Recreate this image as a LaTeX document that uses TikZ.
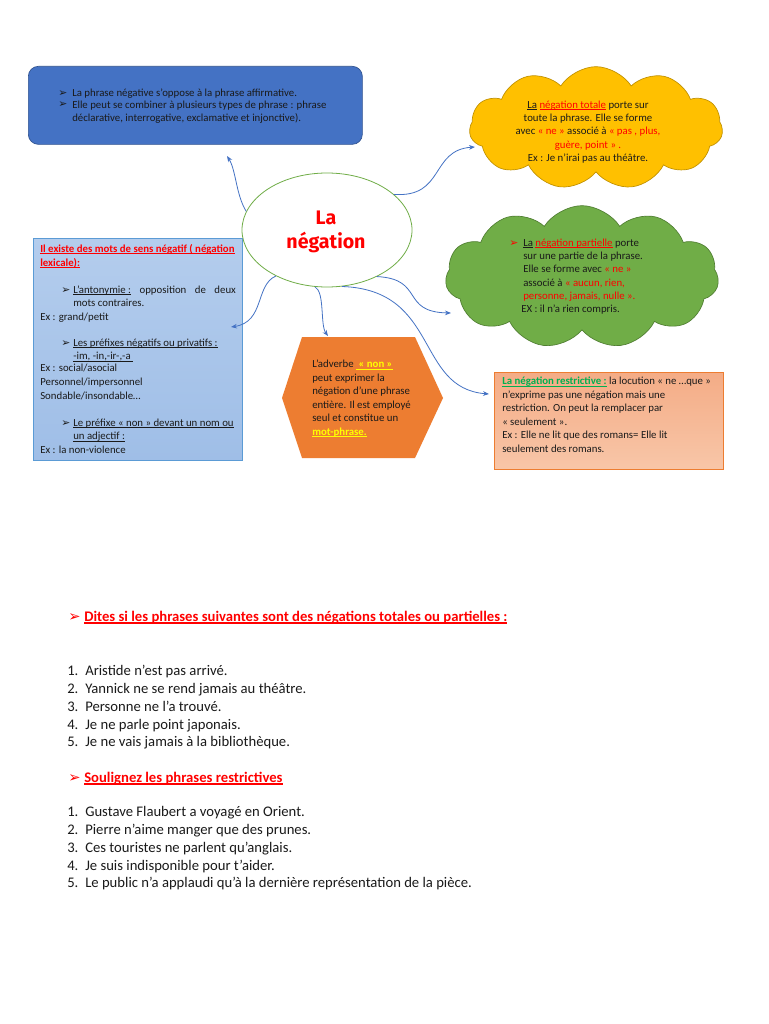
\documentclass[tikz,border=0pt]{standalone}
\usepackage{fontspec}
\setmainfont{Carlito}
\newfontfamily\symf{DejaVu Sans}
\newfontfamily\titlef{Fira Sans}
\usetikzlibrary{shapes.geometric,shapes.symbols,arrows.meta}
\definecolor{boxblue}{HTML}{4472C4}
\definecolor{boxblueb}{HTML}{2F528F}
\definecolor{ycloud}{HTML}{FFC000}
\definecolor{ycloudb}{HTML}{C09000}
\definecolor{gcloud}{HTML}{70AD47}
\definecolor{gcloudb}{HTML}{507E32}
\definecolor{lbtop}{HTML}{B4CDED}
\definecolor{lbbot}{HTML}{9FBEE7}
\definecolor{lbb}{HTML}{5B9BD5}
\definecolor{hexor}{HTML}{ED7D31}
\definecolor{saltop}{HTML}{F4AC86}
\definecolor{salbot}{HTML}{F8C6A8}
\definecolor{salb}{HTML}{ED7D31}
\definecolor{rd}{HTML}{FF0000}
\definecolor{gn}{HTML}{00B050}
\definecolor{yl}{HTML}{FFFF00}
\definecolor{txt}{HTML}{1A1A1A}
\definecolor{conn}{HTML}{4472C4}
\newcommand\undl[1]{\setbox0=\hbox{#1}\rlap{\rule[-0.17em]{\wd0}{0.07em}}\box0\relax}
\newcommand\arw{{\symf\char"27A2}}
\begin{document}
\begin{tikzpicture}[x=0.75pt,y=-0.75pt,
  small/.style={anchor=base west,inner sep=0pt,text=txt,align=left,font=\fontsize{8.1}{10.1}\selectfont},
  smallc/.style={anchor=base,inner sep=0pt,text=txt,align=center,font=\fontsize{8.1}{10.1}\selectfont},
  body/.style={anchor=base west,inner sep=0pt,text=txt,align=left,font=\fontsize{11}{13.3}\selectfont},
  conn/.style={draw=conn,line width=0.6pt,-{Stealth[length=4.5pt,width=3.5pt]}}]
\useasboundingbox[fill=white] (0,0) rectangle (768,1024);

% ---------- shapes ----------
\node[draw=boxblueb,fill=boxblue,rounded corners=7.5pt,anchor=north west,minimum width=250.5pt,minimum height=58.5pt,line width=0.5pt] (bluebox) at (28,66) {};
\node[cloud,cloud puffs=11,cloud puff arc=115,cloud ignores aspect,minimum width=190pt,minimum height=92pt,draw=ycloudb,fill=ycloud,line width=0.5pt] (ycl) at (596,128) {};
\node[cloud,cloud puffs=11,cloud puff arc=115,cloud ignores aspect,minimum width=205pt,minimum height=107pt,draw=gcloudb,fill=gcloud,line width=0.5pt] (gcl) at (582,277) {};
\node[draw=lbb,top color=lbtop,bottom color=lbbot,anchor=north west,minimum width=156.75pt,minimum height=166.5pt,line width=0.6pt] (lbox) at (33,238) {};
\node[draw=salb,top color=saltop,bottom color=salbot,anchor=north west,minimum width=171.75pt,minimum height=72.75pt,line width=0.6pt] (sbox) at (494,372) {};
\fill[hexor] (282,398) -- (302,337) -- (415,337) -- (443,398) -- (415,458) -- (302,458) -- cycle;
\coordinate (hextop) at (328,336);
\node[ellipse,draw=gcloud,fill=white,minimum width=127.5pt,minimum height=85.5pt,line width=0.6pt] (ell) at (327,230) {};

% ---------- title ----------
\node[anchor=base,inner sep=0pt,text=rd,font=\titlef\bfseries\fontsize{14.7}{18}\selectfont,align=center] (title) at (326,248) {La\\négation};

% ---------- blue box text ----------
\node[small] (b1a) at (58,96) {\arw};
\node[small] (b1) at (72,96) {La phrase négative s’oppose à la phrase affirmative.};
\node[small] (b2a) at (58,108) {\arw};
\node[small] (b2) at (72,121.5) {Elle peut se combiner à plusieurs types de phrase : phrase\\déclarative, interrogative, exclamative et injonctive).};

% ---------- yellow cloud text ----------
\node[smallc] (ytxt) at (588,161.9) {\undl{La} {\color{rd}\undl{négation totale}} porte sur\\toute la phrase. Elle se forme\\avec {\color{rd}« ne »} associé à {\color{rd}« pas , plus,}\\{\color{rd}guère, point » .}\\Ex : Je n’irai pas au théâtre.};

% ---------- green cloud text ----------
\node[small,text=rd] (ga) at (509,246) {\arw};
\node[small] (gtxt) at (523,299.9) {\undl{La} {\color{rd}\undl{négation partielle}} porte\\sur une partie de la phrase.\\Elle se forme avec {\color{rd}« ne »}\\associé à {\color{rd}« aucun, rien,}\\{\color{rd}personne, jamais, nulle ».}};
\node[small] (gex) at (521,312.5) {EX : il n’a rien compris.};

% ---------- left box text ----------
\node[small,text=rd,font=\bfseries\fontsize{8.1}{10.5}\selectfont] (lh) at (40,266) {\undl{Il existe des mots de sens négatif ( négation}\\\undl{lexicale):}};
\node[small] (la1) at (61,293) {\arw};
\node[small] (l1) at (73,306.5) {\hbox to 122pt{\undl{L’antonymie :}\hfill opposition\hfill de\hfill deux}\\mots contraires.};
\node[small] (l1e) at (40,320) {Ex : grand/petit};
\node[small] (la2) at (61,346) {\arw};
\node[small] (l2) at (73,359.5) {\undl{Les préfixes négatifs ou privatifs :}\\\undl{-im, -in,-ir-,-a }};
\node[small,font=\fontsize{8.1}{10.5}\selectfont] (l2e) at (40,399) {Ex : social/asocial\\Personnel/impersonnel\\Sondable/insondable…};
\node[small] (la3) at (61,426) {\arw};
\node[small] (l3) at (73,439.5) {\undl{Le préfixe « non » devant un nom ou}\\\undl{un adjectif :}};
\node[small] (l3e) at (40,453) {Ex : la non-violence};

% ---------- hexagon text ----------
\node[small] (htxt) at (312,435.3) {L’adverbe {\color{yl}\bfseries\undl{ « non »}}\\peut exprimer la\\négation d’une phrase\\entière. Il est employé\\seul et constitue un\\{\color{yl}\bfseries\undl{mot-phrase.}}};

% ---------- salmon box text ----------
\node[small] (stxt) at (502,452.3) {{\color{gn}\bfseries\undl{La négation restrictive :}} la locution « ne …que »\\n’exprime pas une négation mais une\\restriction. On peut la remplacer par\\« seulement ».\\Ex : Elle ne lit que des romans= Elle lit\\seulement des romans.};

% ---------- connectors ----------
\coordinate (t1) at (227,156);
\coordinate (t2) at (475,147);
\coordinate (t3) at (231,327);
\coordinate (t5) at (451,313);
\coordinate (t6) at (489,394);
\draw[conn] (ell.167) .. controls (236,195) and (236,170) .. (t1);
\draw[conn] (ell.28) .. controls (445,198) and (430,150) .. (t2);
\draw[conn] (ell.222) .. controls (255,285) and (265,322) .. (t3);
\draw[conn] (ell.258) .. controls (325,292) and (320,325) .. (hextop);
\draw[conn] (ell.317) .. controls (425,279) and (400,312) .. (t5);
\draw[conn] (ell.285) .. controls (440,290) and (415,388) .. (t6);

% ---------- exercises ----------
\node[body,text=rd] (e1a) at (68,621) {\arw};
\node[body,text=rd,font=\bfseries\fontsize{11}{13.3}\selectfont] (e1h) at (84,621) {\undl{Dites si les phrases suivantes sont des négations totales ou partielles :}};
\node[body] (e1n) at (67,746.9) {1.\\2.\\3.\\4.\\5.};
\node[body] (e1t) at (85,746.9) {Aristide n’est pas arrivé.\\Yannick ne se rend jamais au théâtre.\\Personne ne l’a trouvé.\\Je ne parle point japonais.\\Je ne vais jamais à la bibliothèque.};
\node[body,text=rd] (e2a) at (68,782) {\arw};
\node[body,text=rd,font=\bfseries\fontsize{11}{13.3}\selectfont] (e2h) at (84,782) {\undl{Soulignez les phrases restrictives}};
\node[body] (e2n) at (67,887.9) {1.\\2.\\3.\\4.\\5.};
\node[body] (e2t) at (85,887.9) {Gustave Flaubert a voyagé en Orient.\\Pierre n’aime manger que des prunes.\\Ces touristes ne parlent qu’anglais.\\Je suis indisponible pour t’aider.\\Le public n’a applaudi qu’à la dernière représentation de la pièce.};
\end{tikzpicture}
\end{document}
